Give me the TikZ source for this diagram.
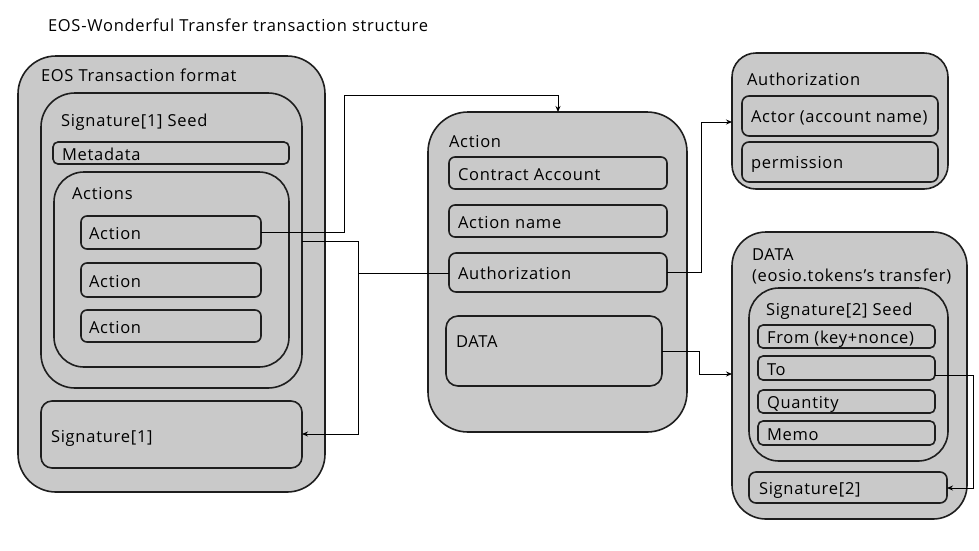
\documentclass[tikz,border=0pt]{standalone}
\usepackage{fontspec}
\setmainfont{Open Sans}[LetterSpace=4.5]
\usetikzlibrary{arrows.meta}
\definecolor{boxfill}{RGB}{201,201,201}
\definecolor{boxline}{RGB}{30,30,30}
\tikzset{
  box/.style={draw=boxline, fill=boxfill, line width=1.6pt, anchor=north west, inner sep=0pt, outer sep=0pt},
  lbl/.style={anchor=base west, inner sep=0pt, outer sep=0pt, font=\fontsize{16.5}{19}\selectfont, text=black},
  conn/.style={draw=black, line width=0.9pt},
  arr/.style={conn, -{Stealth[length=6pt,width=5pt]}}
}
\newcommand{\bx}[6]{\node[box, rounded corners=#6, minimum width=#4pt-#2pt, minimum height=#5pt-#3pt] (#1) at (#2,#3) {};}
\begin{document}
\begin{tikzpicture}[x=1pt,y=-1pt]
\useasboundingbox (0,0) rectangle (979,550);
\node[lbl] (title) at (48,31) {EOS-Wonderful Transfer transaction structure};

% left: EOS Transaction format
\bx{eos}{18}{56}{325}{492}{38pt}
\node[lbl] (eost) at (41,81) {EOS Transaction format};
\bx{seed1}{41}{93}{302}{388}{34pt}
\node[lbl] (seed1t) at (61,126) {Signature[1] Seed};
\bx{meta}{53}{142}{289}{164}{5pt}
\node[lbl] (metat) at (62,160) {Metadata};
\bx{acts}{54}{172}{289}{367}{30pt}
\node[lbl] (actst) at (72,199) {Actions};
\bx{act1}{81}{216}{261}{249}{6pt}
\node[lbl] (act1t) at (89,239) {Action};
\bx{act2}{81}{263}{261}{297}{6pt}
\node[lbl] (act2t) at (89,287) {Action};
\bx{act3}{81}{310}{261}{342}{6pt}
\node[lbl] (act3t) at (89,333) {Action};
\bx{sig1}{41}{401}{302}{468}{11pt}
\node[lbl] (sig1t) at (51,442) {Signature[1]};

% middle: Action
\bx{action}{428}{112}{687}{432}{40pt}
\node[lbl] (actiont) at (449,147) {Action};
\bx{contract}{449}{157}{667}{189}{6pt}
\node[lbl] (contractt) at (458,180) {Contract Account};
\bx{aname}{449}{205}{667}{237}{6pt}
\node[lbl] (anamet) at (458,228) {Action name};
\bx{auth}{449}{253}{667}{292}{7pt}
\node[lbl] (autht) at (458,279) {Authorization};
\bx{data}{446}{316}{662}{386}{12pt}
\node[lbl] (datat) at (456,347) {DATA};

% right top: Authorization
\bx{rauth}{732}{53}{948}{189}{24pt}
\node[lbl] (rautht) at (747,85) {Authorization};
\bx{actor}{742}{96}{938}{136}{7pt}
\node[lbl] (actort) at (751,122) {Actor (account name)};
\bx{perm}{742}{142}{938}{182}{7pt}
\node[lbl] (permt) at (751,168) {permission};

% right bottom: DATA
\bx{rdata}{732}{232}{967}{519}{34pt}
\node[lbl] (rdatat) at (752,260) {DATA};
\node[lbl] (rdatat2) at (752,281) {(eosio.tokens's transfer)};
\bx{seed2}{749}{288}{948}{461}{30pt}
\node[lbl] (seed2t) at (766,315) {Signature[2] Seed};
\bx{from}{758}{325}{935}{348}{5pt}
\node[lbl] (fromt) at (767,343) {From (key+nonce)};
\bx{to}{758}{356}{935}{380}{5pt}
\node[lbl] (tot) at (767,375) {To};
\bx{qty}{758}{390}{935}{413}{5pt}
\node[lbl] (qtyt) at (767,408) {Quantity};
\bx{memo}{758}{421}{935}{445}{5pt}
\node[lbl] (memot) at (767,440) {Memo};
\bx{sig2}{749}{472}{947}{503}{7pt}
\node[lbl] (sig2t) at (759,494) {Signature[2]};

% connectors
\draw[arr] (act1.east |- 0,232) -- (344,232) -- (344,95) -- (558,95) -- (action.north -| 558,0);
\draw[arr] (seed1.east |- 0,241) -- (358,241) -- (358,434) -- (sig1.east |- 0,434);
\coordinate (j1) at (358,273);
\draw[conn] (auth.west |- 0,273) -- (j1);
\draw[arr] (auth.east |- 0,272) -- (701,272) -- (701,122) -- (rauth.west |- 0,122);
\draw[arr] (data.east |- 0,351) -- (699,351) -- (699,374) -- (rdata.west |- 0,374);
\draw[arr] (to.east |- 0,375) -- (973,375) -- (973,488) -- (sig2.east |- 0,488);
\end{tikzpicture}
\end{document}
